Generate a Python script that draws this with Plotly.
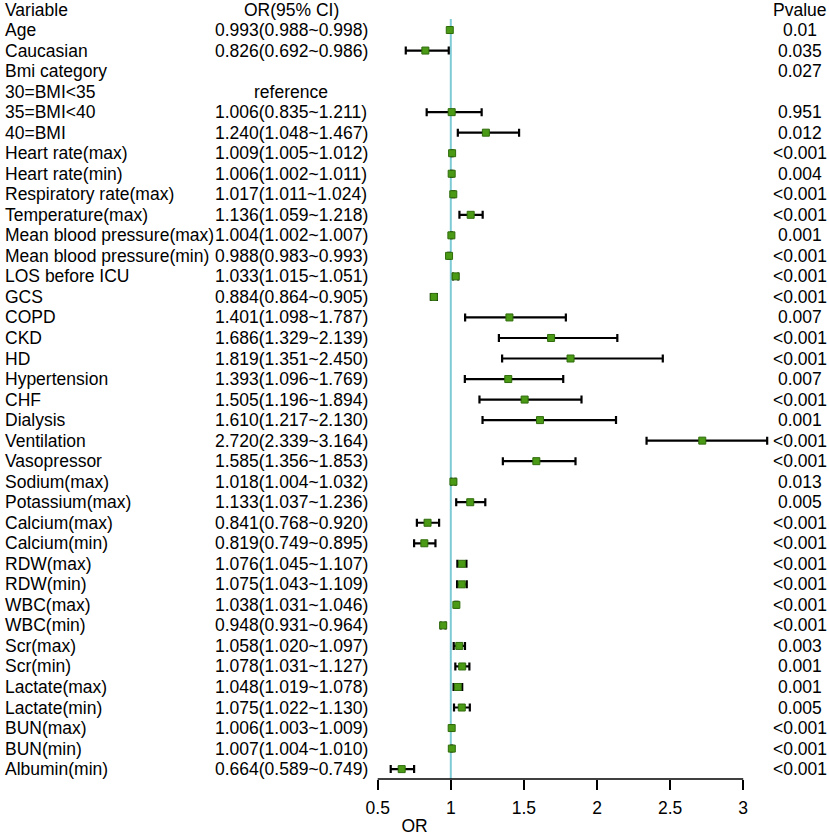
import plotly.graph_objects as go

# forest plot of the multivariable logistic model
variables = ['Age', 'Caucasian', 'Bmi category', '30=BMI<35', '35=BMI<40', '40=BMI',
             'Heart rate(max)', 'Heart rate(min)', 'Respiratory rate(max)', 'Temperature(max)',
             'Mean blood pressure(max)', 'Mean blood pressure(min)', 'LOS before ICU', 'GCS',
             'COPD', 'CKD', 'HD', 'Hypertension', 'CHF', 'Dialysis', 'Ventilation', 'Vasopressor',
             'Sodium(max)', 'Potassium(max)', 'Calcium(max)', 'Calcium(min)', 'RDW(max)', 'RDW(min)',
             'WBC(max)', 'WBC(min)', 'Scr(max)', 'Scr(min)', 'Lactate(max)', 'Lactate(min)',
             'BUN(max)', 'BUN(min)', 'Albumin(min)']
or_vals = [0.993, 0.826, None, None, 1.006, 1.240, 1.009, 1.006, 1.017, 1.136, 1.004, 0.988,
           1.033, 0.884, 1.401, 1.686, 1.819, 1.393, 1.505, 1.610, 2.720, 1.585, 1.018, 1.133,
           0.841, 0.819, 1.076, 1.075, 1.038, 0.948, 1.058, 1.078, 1.048, 1.075, 1.006, 1.007, 0.664]
lower = [0.988, 0.692, None, None, 0.835, 1.048, 1.005, 1.002, 1.011, 1.059, 1.002, 0.983,
         1.015, 0.864, 1.098, 1.329, 1.351, 1.096, 1.196, 1.217, 2.339, 1.356, 1.004, 1.037,
         0.768, 0.749, 1.045, 1.043, 1.031, 0.931, 1.020, 1.031, 1.019, 1.022, 1.003, 1.004, 0.589]
upper = [0.998, 0.986, None, None, 1.211, 1.467, 1.012, 1.011, 1.024, 1.218, 1.007, 0.993,
         1.051, 0.905, 1.787, 2.139, 2.450, 1.769, 1.894, 2.130, 3.164, 1.853, 1.032, 1.236,
         0.920, 0.895, 1.107, 1.109, 1.046, 0.964, 1.097, 1.127, 1.078, 1.130, 1.009, 1.010, 0.749]
pvalues = ['0.01', '0.035', '0.027', '', '0.951', '0.012', '<0.001', '0.004', '<0.001', '<0.001',
           '0.001', '<0.001', '<0.001', '<0.001', '0.007', '<0.001', '<0.001', '0.007', '<0.001',
           '0.001', '<0.001', '<0.001', '0.013', '0.005', '<0.001', '<0.001', '<0.001', '<0.001',
           '<0.001', '<0.001', '0.003', '0.001', '0.001', '0.005', '<0.001', '<0.001', '<0.001']
x_ticks = [0.5, 1, 1.5, 2, 2.5, 3]

W, H = 829, 836
FONT = 'Liberation Sans, Arial, sans-serif'
FS = 17.5
PX_PER_UNIT = 146.2
X0_PX = 377.7          # pixel position of OR = 0.5
ROW_PITCH = 20.53
ROW0_PX = 9.5          # header row centre
AXIS_PX = 779

x_lo = 0.5 - X0_PX / PX_PER_UNIT
x_hi = x_lo + W / PX_PER_UNIT
r_top = -ROW0_PX / ROW_PITCH
r_bot = r_top + AXIS_PX / ROW_PITCH

rows = list(range(1, len(variables) + 1))
xs, ys, ep, em = [], [], [], []
for r, o, lo, hi in zip(rows, or_vals, lower, upper):
    if o is None:
        continue
    xs.append(o)
    ys.append(r)
    ep.append(hi - o)
    em.append(o - lo)

fig = go.Figure()
fig.add_trace(go.Scatter(
    x=xs, y=ys, mode='markers',
    marker=dict(symbol='square', size=7, color='#4a9a16', line=dict(color='#2f6b0b', width=1)),
    error_x=dict(type='data', symmetric=False, array=ep, arrayminus=em,
                 color='black', thickness=2.2, width=4),
    showlegend=False, hoverinfo='skip'))

anns = []
def txt(x, y, s, anchor='center'):
    anns.append(dict(x=x, y=y, xref='paper', yref='y', text=s, showarrow=False,
                     xanchor=anchor, yanchor='middle', font=dict(family=FONT, size=FS, color='black')))

txt(3 / W, 0, 'Variable', 'left')
txt(291 / W, 0, 'OR(95% CI)')
txt(800 / W, 0, 'Pvalue')
for r, v, o, lo, hi, p in zip(rows, variables, or_vals, lower, upper, pvalues):
    txt(3 / W, r, v, 'left')
    if o is not None:
        txt(291 / W, r, f'{o:.3f}({lo:.3f}~{hi:.3f})')
    elif v.startswith('30=BMI'):
        txt(291 / W, r, 'reference')
    if p:
        txt(800 / W, r, p)

shapes = [
    dict(type='line', xref='x', yref='paper', x0=1, x1=1, y0=0, y1=(AXIS_PX - 19) / AXIS_PX,
         line=dict(color='#7ecbd6', width=2), layer='below'),
    dict(type='line', xref='x', yref='paper', x0=x_ticks[0], x1=x_ticks[-1], y0=0, y1=0,
         line=dict(color='black', width=1.5)),
]

fig.update_layout(
    width=W, height=H,
    margin=dict(l=0, r=0, t=0, b=H - AXIS_PX),
    plot_bgcolor='white', paper_bgcolor='white',
    annotations=anns, shapes=shapes,
    font=dict(family=FONT, size=FS, color='black'),
    xaxis=dict(range=[x_lo, x_hi], tickvals=x_ticks, ticktext=[f'{t:g}' for t in x_ticks],
               ticks='outside', ticklen=10, tickwidth=1.5, tickcolor='black',
               ticklabelstandoff=3,
               showgrid=False, zeroline=False, showline=False,
               title=dict(text='OR', standoff=5, font=dict(size=FS))),
    yaxis=dict(range=[r_bot, r_top], visible=False, showgrid=False, zeroline=False),
)

# drop the default page margin so the figure sits at the window's corner
fig.write_html('out.html', config={'displayModeBar': False},
               post_script="document.body.style.margin='0px';")
